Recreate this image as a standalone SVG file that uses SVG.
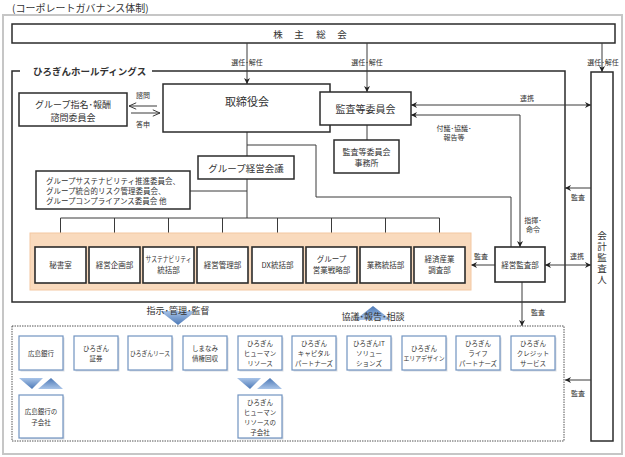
<svg xmlns="http://www.w3.org/2000/svg" width="625" height="457" viewBox="0 0 625 457">
<style>
text{font-family:"Noto Sans CJK JP","Noto Sans",sans-serif;fill:#333;}
.box{fill:#fff;stroke:#2b2b2b;stroke-width:1.5;}
.dep{fill:#fff;stroke:#2b2b2b;stroke-width:1.6;}
.sub{fill:#fff;stroke:#7193c0;stroke-width:1.2;}
.shd{fill:#d9dde3;stroke:none;}
.ln{fill:none;stroke:#3a3a3a;stroke-width:1;}
.lbl{font-size:7px;text-anchor:middle;}
.dt{font-size:7.5px;text-anchor:middle;}
.st{font-size:6.5px;text-anchor:middle;}
.c{text-anchor:middle;}
</style>
<defs>
<marker id="ah" viewBox="0 0 10 10" refX="10" refY="5" markerWidth="6" markerHeight="6" markerUnits="userSpaceOnUse" orient="auto-start-reverse">
<path d="M0,0 L10,5 L0,10 L3,5 z" fill="#222"/>
</marker>
<marker id="oh" viewBox="0 0 10 10" refX="10" refY="5" markerWidth="8" markerHeight="8" markerUnits="userSpaceOnUse" orient="auto-start-reverse">
<path d="M1,1 L10,5 L1,9" fill="none" stroke="#333" stroke-width="1.2"/>
</marker>
<linearGradient id="gd" x1="0" y1="0" x2="0" y2="1">
<stop offset="0" stop-color="#a9c4e8"/>
<stop offset="1" stop-color="#4b78b6"/>
</linearGradient>
<linearGradient id="gu" x1="0" y1="1" x2="0" y2="0">
<stop offset="0" stop-color="#a9c4e8"/>
<stop offset="1" stop-color="#4b78b6"/>
</linearGradient>
</defs>

<rect width="625" height="457" fill="#fff"/>
<rect x="3" y="15" width="619" height="439" fill="none" stroke="#c6c6c6" stroke-width="2"/>
<text x="12" y="12" font-size="10" fill="#444">(コーポレートガバナンス体制)</text>

<!-- Shareholders -->
<g id="shareholders">
<rect class="box" x="12" y="24" width="603" height="19"/>
<text x="278" y="37.5" font-size="9.5" class="c">株</text>
<text x="299" y="37.5" font-size="9.5" class="c">主</text>
<text x="321" y="37.5" font-size="9.5" class="c">総</text>
<text x="342" y="37.5" font-size="9.5" class="c">会</text>
</g>

<!-- Holdings frame -->
<g id="holdings">
<path d="M20,71 H12 V302 H565 V71 H152" fill="none" stroke="#2b2b2b" stroke-width="1.5"/>
<text x="33" y="75" font-size="9.5" font-weight="bold" fill="#222">ひろぎんホールディングス</text>
</g>

<!-- Accounting auditor -->
<g id="auditor">
<rect class="box" x="591" y="72" width="22" height="369"/>
<text x="602" y="258" font-size="9.5" text-anchor="middle" letter-spacing="1.5" style="writing-mode:vertical-rl">会計監査人</text>
</g>

<!-- Connectors -->
<g id="connectors">
<path class="ln" d="M247,43 V84" marker-end="url(#ah)"/>
<path class="ln" d="M367,43 V92" marker-end="url(#ah)"/>
<path class="ln" d="M602,43 V72" marker-end="url(#ah)"/>
<path class="ln" d="M157,106 H129" marker-end="url(#oh)"/>
<path class="ln" d="M131,113 H160" marker-end="url(#oh)"/>
<path class="ln" d="M247,132 V156"/>
<path class="ln" d="M247,145 H316 V197 H511 V247"/>
<path class="ln" d="M247,179 V218"/>
<path class="ln" d="M190,191 H247"/>
<path class="ln" d="M60.5,218 H439.5"/>
<path class="ln" d="M60.5,218 V247 M114.5,218 V247 M168.5,218 V247 M222.5,218 V247 M277.5,218 V247 M331.5,218 V247 M385.5,218 V247 M439.5,218 V247"/>
<path class="ln" d="M367,125 V140"/>
<path class="ln" d="M411,105 H591" marker-start="url(#ah)" marker-end="url(#ah)"/>
<path class="ln" d="M411,115 H520 V247" marker-start="url(#ah)" marker-end="url(#ah)"/>
<path class="ln" d="M591,188 H565" marker-end="url(#ah)"/>
<path class="ln" d="M495,265 H471" marker-end="url(#ah)"/>
<path class="ln" d="M545,265 H591" marker-start="url(#ah)" marker-end="url(#ah)"/>
<path class="ln" d="M522,282 V326" marker-end="url(#ah)"/>
<path class="ln" d="M591,380 H565" marker-end="url(#ah)"/>
<text class="lbl" x="247" y="64.5">選任･解任</text>
<text class="lbl" x="367" y="64.5">選任･解任</text>
<text class="lbl" x="603" y="64.5">選任･解任</text>
<text class="lbl" x="143" y="98">諮問</text>
<text class="lbl" x="143" y="127">答申</text>
<text class="lbl" x="527" y="101">連携</text>
<text class="lbl" x="454" y="130.5">付議･協議･</text>
<text class="lbl" x="454" y="140">報告等</text>
<text class="lbl" x="578" y="199.5">監査</text>
<text class="lbl" x="533" y="223">指揮･</text>
<text class="lbl" x="533" y="232">命令</text>
<text class="lbl" x="481" y="259">監査</text>
<text class="lbl" x="577" y="259">連携</text>
<text class="lbl" x="538" y="315">監査</text>
<text class="lbl" x="578" y="396">監査</text>
</g>

<!-- Board -->
<g id="board">
<rect class="box" x="163" y="84" width="167" height="48"/>
<text x="247" y="106" font-size="11" class="c">取締役会</text>
</g>
<g id="audit-committee">
<rect class="box" x="320" y="92" width="91" height="33"/>
<text x="365.5" y="112.5" font-size="10" class="c">監査等委員会</text>
</g>
<g id="audit-office">
<rect class="box" x="334" y="140" width="65" height="33"/>
<text x="366.5" y="155" font-size="8" class="c">監査等委員会</text>
<text x="366.5" y="165.5" font-size="8" class="c">事務所</text>
</g>
<g id="nomination">
<rect class="box" x="19" y="93" width="108" height="33"/>
<text x="73" y="107.5" font-size="9" class="c">グループ指名･報酬</text>
<text x="73" y="120.5" font-size="9" class="c">諮問委員会</text>
</g>
<g id="group-meeting">
<rect class="box" x="198" y="156" width="96" height="23"/>
<text x="246" y="171.5" font-size="9.5" class="c">グループ経営会議</text>
</g>
<g id="committees">
<rect class="box" x="36" y="171" width="154" height="38"/>
<text x="46" y="183.5" font-size="7.5">グループサステナビリティ推進委員会、</text>
<text x="46" y="193.5" font-size="7.5">グループ統合的リスク管理委員会、</text>
<text x="46" y="203.5" font-size="7.5">グループコンプライアンス委員会 他</text>
</g>

<!-- Departments -->
<rect id="dept-band" x="30" y="233" width="441" height="57" fill="#f9dabd" stroke="#f3c8a2" stroke-width="1"/>
<g id="d1"><rect class="dep" x="35" y="247" width="51" height="36"/><text class="dt" x="60.5" y="268">秘書室</text></g>
<g id="d2"><rect class="dep" x="89" y="247" width="51" height="36"/><text class="dt" x="114.5" y="268">経営企画部</text></g>
<g id="d3"><rect class="dep" x="143" y="247" width="51" height="36"/><text class="dt" x="168.5" y="262" textLength="46" lengthAdjust="spacingAndGlyphs">サステナビリティ</text><text class="dt" x="168.5" y="273">統括部</text></g>
<g id="d4"><rect class="dep" x="197" y="247" width="51" height="36"/><text class="dt" x="222.5" y="268">経営管理部</text></g>
<g id="d5"><rect class="dep" x="252" y="247" width="51" height="36"/><text class="dt" x="277.5" y="268">DX統括部</text></g>
<g id="d6"><rect class="dep" x="306" y="247" width="51" height="36"/><text class="dt" x="331.5" y="262">グループ</text><text class="dt" x="331.5" y="273">営業戦略部</text></g>
<g id="d7"><rect class="dep" x="360" y="247" width="51" height="36"/><text class="dt" x="385.5" y="268">業務統括部</text></g>
<g id="d8"><rect class="dep" x="414" y="247" width="51" height="36"/><text class="dt" x="439.5" y="262">経済産業</text><text class="dt" x="439.5" y="273">調査部</text></g>
<g id="internal-audit"><rect class="dep" x="495" y="247" width="50" height="35"/><text class="dt" x="520" y="268">経営監査部</text></g>

<!-- Arrows between HD and subsidiaries -->
<g id="instruct">
<polygon points="160,311 196,311 178,325" fill="url(#gd)"/>
<text x="178" y="314" font-size="9" class="c">指示･管理･監督</text>
</g>
<g id="consult">
<polygon points="355,320 391,320 373,306" fill="url(#gu)"/>
<text x="373" y="320" font-size="9" class="c">協議･報告･相談</text>
</g>

<!-- Subsidiaries frame -->
<rect id="subs-frame" x="12" y="326" width="552" height="115" fill="none" stroke="#555" stroke-width="1" stroke-dasharray="1.5,1"/>

<g id="s1"><rect class="shd" x="20.5" y="337.5" width="44" height="34"/><rect class="sub" x="19" y="336" width="44" height="34"/><text class="st" x="41" y="355.5">広島銀行</text></g>
<g id="s2"><rect class="shd" x="75.5" y="337.5" width="44" height="34"/><rect class="sub" x="74" y="336" width="44" height="34"/><text class="st" x="96" y="350.5">ひろぎん</text><text class="st" x="96" y="360.5">証券</text></g>
<g id="s3"><rect class="shd" x="129.5" y="337.5" width="44" height="34"/><rect class="sub" x="128" y="336" width="44" height="34"/><text class="st" x="150" y="355.5" textLength="40" lengthAdjust="spacingAndGlyphs">ひろぎんリース</text></g>
<g id="s4"><rect class="shd" x="184.5" y="337.5" width="44" height="34"/><rect class="sub" x="183" y="336" width="44" height="34"/><text class="st" x="205" y="350.5">しまなみ</text><text class="st" x="205" y="360.5">債権回収</text></g>
<g id="s5"><rect class="shd" x="239.5" y="337.5" width="44" height="34"/><rect class="sub" x="238" y="336" width="44" height="34"/><text class="st" x="260" y="345.5">ひろぎん</text><text class="st" x="260" y="355.5">ヒューマン</text><text class="st" x="260" y="365.5">リソース</text></g>
<g id="s6"><rect class="shd" x="293.5" y="337.5" width="44" height="34"/><rect class="sub" x="292" y="336" width="44" height="34"/><text class="st" x="314" y="345.5">ひろぎん</text><text class="st" x="314" y="355.5">キャピタル</text><text class="st" x="314" y="365.5" textLength="38" lengthAdjust="spacingAndGlyphs">パートナーズ</text></g>
<g id="s7"><rect class="shd" x="348.5" y="337.5" width="44" height="34"/><rect class="sub" x="347" y="336" width="44" height="34"/><text class="st" x="369" y="345.5">ひろぎんIT</text><text class="st" x="369" y="355.5">ソリュー</text><text class="st" x="369" y="365.5">ションズ</text></g>
<g id="s8"><rect class="shd" x="403.5" y="337.5" width="44" height="34"/><rect class="sub" x="402" y="336" width="44" height="34"/><text class="st" x="424" y="350.5">ひろぎん</text><text class="st" x="424" y="360.5" textLength="41" lengthAdjust="spacingAndGlyphs">エリアデザイン</text></g>
<g id="s9"><rect class="shd" x="457.5" y="337.5" width="44" height="34"/><rect class="sub" x="456" y="336" width="44" height="34"/><text class="st" x="478" y="345.5">ひろぎん</text><text class="st" x="478" y="355.5">ライフ</text><text class="st" x="478" y="365.5" textLength="38" lengthAdjust="spacingAndGlyphs">パートナーズ</text></g>
<g id="s10"><rect class="shd" x="512.5" y="337.5" width="44" height="34"/><rect class="sub" x="511" y="336" width="44" height="34"/><text class="st" x="533" y="345.5">ひろぎん</text><text class="st" x="533" y="355.5">クレジット</text><text class="st" x="533" y="365.5">サービス</text></g>

<g id="tri1">
<polygon points="19,378 43,378 32,389" fill="url(#gd)"/>
<polygon points="38,389 63,389 51,378" fill="url(#gu)"/>
</g>
<g id="tri2">
<polygon points="237,378 261,378 250,389" fill="url(#gd)"/>
<polygon points="257,389 282,389 270,378" fill="url(#gu)"/>
</g>

<g id="s1c"><rect class="shd" x="20.5" y="396.5" width="44" height="43"/><rect class="sub" x="19" y="395" width="44" height="43"/><text class="st" x="41" y="413.5">広島銀行の</text><text class="st" x="41" y="424.5">子会社</text></g>
<g id="s5c"><rect class="shd" x="239.5" y="396.5" width="44" height="43"/><rect class="sub" x="238" y="395" width="44" height="43"/><text class="st" x="260" y="404.5">ひろぎん</text><text class="st" x="260" y="414.5">ヒューマン</text><text class="st" x="260" y="424.5">リソースの</text><text class="st" x="260" y="434.5">子会社</text></g>
</svg>
